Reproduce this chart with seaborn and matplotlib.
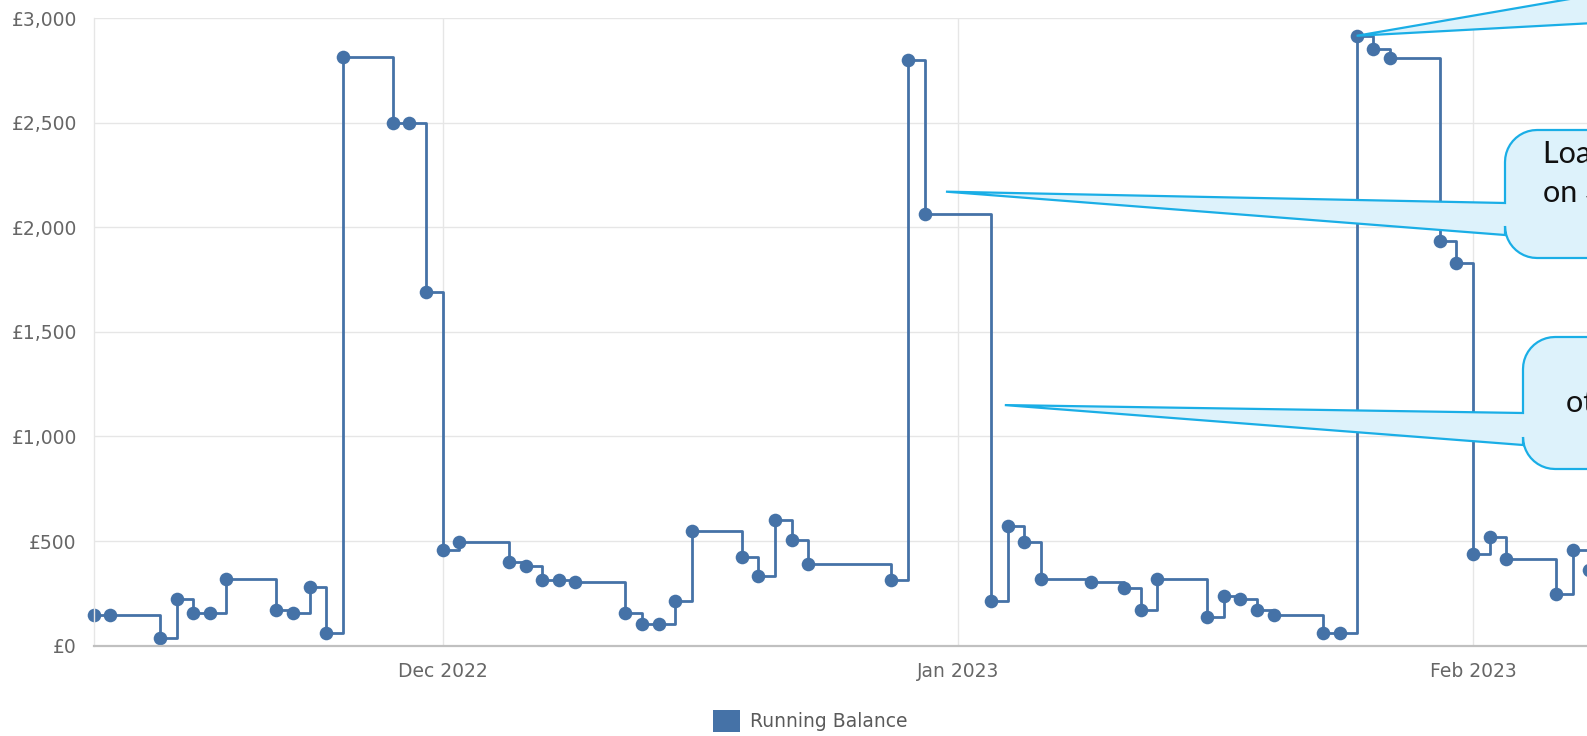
import numpy as np
import pandas as pd
import matplotlib
matplotlib.use("Agg")
import matplotlib.pyplot as plt
import matplotlib.dates as mdates
from matplotlib.patches import Polygon, Patch
from matplotlib.ticker import FuncFormatter
from matplotlib.transforms import IdentityTransform
import seaborn as sns

# ---- data -------------------------------------------------------------
dates = [
    "2022-11-10", "2022-11-11", "2022-11-14", "2022-11-15", "2022-11-16",
    "2022-11-17", "2022-11-18", "2022-11-21", "2022-11-22", "2022-11-23",
    "2022-11-24", "2022-11-25", "2022-11-28", "2022-11-29", "2022-11-30",
    "2022-12-01", "2022-12-02", "2022-12-05", "2022-12-06", "2022-12-07",
    "2022-12-08", "2022-12-09", "2022-12-12", "2022-12-13", "2022-12-14",
    "2022-12-15", "2022-12-16", "2022-12-19", "2022-12-20", "2022-12-21",
    "2022-12-22", "2022-12-23", "2022-12-28", "2022-12-29", "2022-12-30",
    "2023-01-03", "2023-01-04", "2023-01-05", "2023-01-06", "2023-01-09",
    "2023-01-11", "2023-01-12", "2023-01-13", "2023-01-16", "2023-01-17",
    "2023-01-18", "2023-01-19", "2023-01-20", "2023-01-23", "2023-01-24",
    "2023-01-25", "2023-01-26", "2023-01-27", "2023-01-30", "2023-01-31",
    "2023-02-01", "2023-02-02", "2023-02-03", "2023-02-06", "2023-02-07",
    "2023-02-08",
]
balances = [
    145, 145, 35, 222, 155,
    155, 320, 170, 155, 282,
    62, 2815, 2497, 2497, 1690,
    455, 495, 398, 382, 313,
    313, 305, 155, 105, 105,
    212, 550, 425, 333, 600,
    507, 390, 313, 2800, 2062,
    213, 572, 498, 320, 305,
    275, 170, 320, 137, 238,
    222, 170, 145, 60, 60,
    2915, 2852, 2808, 1935, 1827,
    437, 520, 413, 245, 455,
    362,
]
y_ticks = [0, 500, 1000, 1500, 2000, 2500, 3000]
series_label = "Running Balance"

# callout pointer targets (date, balance)
note_targets = [("2023-01-25", 2915), ("2022-12-31 07:00", 2170), ("2023-01-03 20:00", 1150)]

# ---- style ------------------------------------------------------------
W, H = 1587, 736
LINE = "#4572A7"
GRID = "#e6e6e6"
TICK_TXT = "#666666"
NOTE_FILL = "#ddf2fb"
NOTE_EDGE = "#1aaee6"

sns.set_theme(style="whitegrid")
plt.rcParams["font.family"] = ["DejaVu Sans"]

fig = plt.figure(figsize=(W / 100, H / 100), dpi=100)
fig.patch.set_facecolor("white")
ax_left, ax_bottom, ax_top = 93.5, 645.7, 18.0
ax = fig.add_axes([ax_left / W, (H - ax_bottom) / H, 1 - ax_left / W, (ax_bottom - ax_top) / H])
ax.set_facecolor("white")

df = pd.DataFrame({"date": pd.to_datetime(dates), "balance": balances})
sns.lineplot(
    data=df, x="date", y="balance", ax=ax, color=LINE, linewidth=2.0,
    drawstyle="steps-post", marker="o", markersize=9.8, markeredgewidth=0,
    clip_on=False, legend=False,
)

# axes ranges: the first business day sits on the y axis, the view runs on past the right edge
px_per_day = 16.62
x0 = mdates.date2num(pd.Timestamp(dates[0]))
ax.set_xlim(x0, x0 + (W - ax_left) / px_per_day)
ax.set_ylim(0, 3000)

ax.set_yticks(y_ticks)
ax.yaxis.set_major_formatter(FuncFormatter(lambda v, p: f"£{int(v):,}"))
ax.xaxis.set_major_locator(mdates.MonthLocator())
ax.xaxis.set_major_formatter(mdates.DateFormatter("%b %Y"))
ax.set_xlabel("")
ax.set_ylabel("")

ax.grid(True, color=GRID, linewidth=1.0)
for s in ("top", "right"):
    ax.spines[s].set_visible(False)
ax.spines["left"].set_color(GRID)
ax.spines["left"].set_linewidth(1.0)
ax.spines["bottom"].set_color("#c0c0c0")
ax.spines["bottom"].set_linewidth(1.6)

ax.tick_params(axis="y", length=9, width=1, color=GRID, pad=3,
               labelsize=13.5, labelcolor=TICK_TXT)
ax.tick_params(axis="x", length=0, pad=12, labelsize=13.5, labelcolor=TICK_TXT)

fig.legend(
    handles=[Patch(facecolor=LINE, edgecolor="none", label=series_label)],
    loc="center", bbox_to_anchor=(810 / W, 1 - 721 / H), frameon=False,
    fontsize=13.5, labelcolor="#5a5a5a", handlelength=1.45, handleheight=1.35,
    handletextpad=0.55, borderpad=0.2,
)


# ---- speech-bubble notes (pixel geometry, y measured from the top) ------
def bubble(target, left, top, right, bottom, base_hi, base_lo, r=32):
    tx, ty = ax.transData.transform((mdates.date2num(pd.Timestamp(target[0])), target[1]))
    T, B = H - top, H - bottom

    def arc(cx, cy, a0, a1):
        return [(cx + r * np.cos(a), cy + r * np.sin(a)) for a in np.linspace(np.radians(a0), np.radians(a1), 12)]

    pts = [(left, H - base_lo), (left, B + r)]
    pts += arc(left + r, B + r, 180, 270)
    pts += arc(right - r, B + r, 270, 360)
    pts += arc(right - r, T - r, 0, 90)
    pts += arc(left + r, T - r, 90, 180)
    pts += [(left, H - base_hi), (tx, ty)]
    poly = Polygon(pts, closed=True, transform=IdentityTransform(),
                   facecolor=NOTE_FILL, edgecolor=NOTE_EDGE, linewidth=1.6, zorder=10)
    fig.add_artist(poly)


bubble(note_targets[0], 1620, -220, 1950, 60, -9.7, 21.6)
bubble(note_targets[1], 1505, 130, 1800, 258, 203, 235)
bubble(note_targets[2], 1523, 337, 1820, 469, 413, 445)

note_font = dict(fontsize=22, color="#111111", family=["Lato", "DejaVu Sans"],
                 transform=IdentityTransform(), va="center", ha="left", zorder=11)
fig.text(1543, H - 154, "Loan repayment", **note_font)
fig.text(1543, H - 193, "on 30th December", **note_font)
fig.text(1566, H - 403, "other outgoings", **note_font)

fig.savefig("out.png", dpi=100, facecolor="white")
